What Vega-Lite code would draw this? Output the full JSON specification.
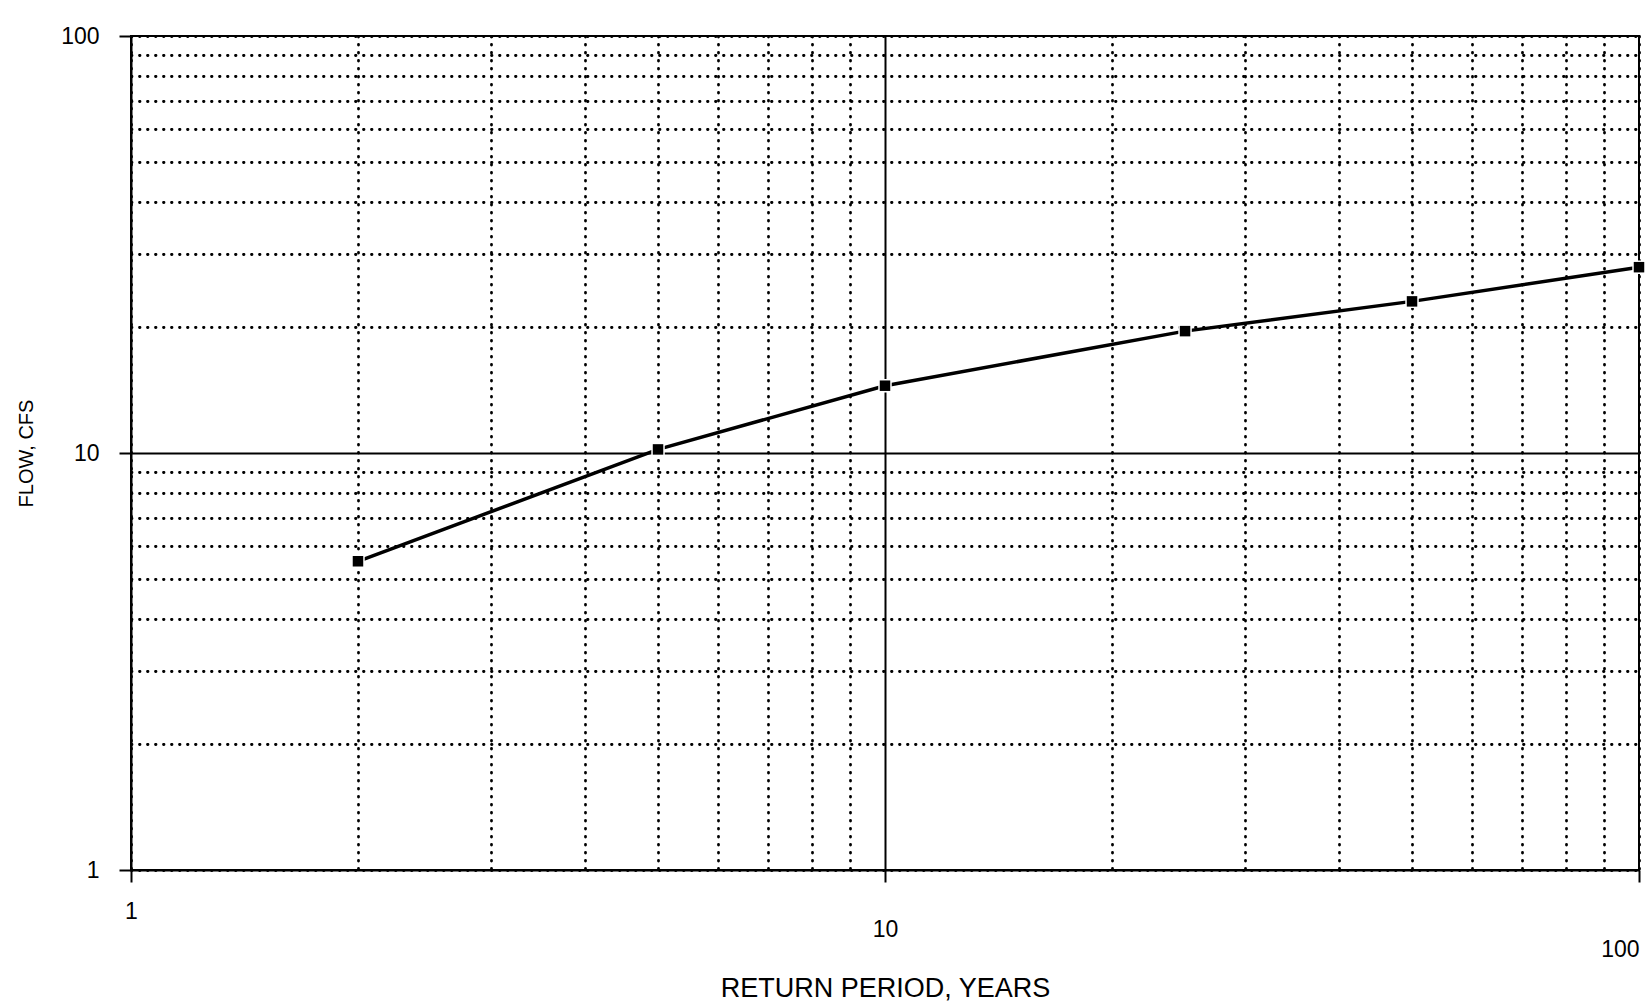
{
  "$schema": "https://vega.github.io/schema/vega-lite/v6.json",
  "width": 1508,
  "height": 834,
  "autosize": {"type": "none"},
  "padding": {"left": 131, "top": 36, "right": 13, "bottom": 134},
  "background": "white",
  "config": {
    "view": {"stroke": "black", "strokeWidth": 2},
    "font": "Liberation Sans",
    "axis": {
      "domainColor": "black",
      "domainWidth": 2,
      "tickColor": "black",
      "tickWidth": 2,
      "tickSize": 12,
      "labelColor": "black",
      "titleColor": "black",
      "labelFont": "Liberation Sans",
      "titleFont": "Liberation Sans",
      "titleFontWeight": "normal",
      "gridColor": "black",
      "gridCap": "round",
      "gridOpacity": 1
    }
  },
  "data": {
    "values": [
      {"period": 2, "flow": 5.5},
      {"period": 5, "flow": 10.2},
      {"period": 10, "flow": 14.5},
      {"period": 25, "flow": 19.6},
      {"period": 50, "flow": 23.1},
      {"period": 100, "flow": 27.9}
    ]
  },
  "encoding": {
    "x": {
      "field": "period",
      "type": "quantitative",
      "scale": {"type": "log", "domain": [1, 100], "nice": false},
      "axis": {
        "title": "RETURN PERIOD, YEARS",
        "titleFontSize": 27,
        "titlePadding": 14,
        "values": [1, 2, 3, 4, 5, 6, 7, 8, 9, 10, 20, 30, 40, 50, 60, 70, 80, 90, 100],
        "labelExpr": "(datum.value == 1 || datum.value == 10 || datum.value == 100) ? format(datum.value, 'd') : ''",
        "labelFontSize": 23,
        "labelPadding": {"condition": [{"test": "datum.value == 1", "value": 18}, {"test": "datum.value == 100", "value": 56}], "value": 36},
        "labelAlign": {"condition": {"test": "datum.value == 100", "value": "right"}, "value": "center"},
        "labelFlush": false,
        "labelOverlap": false,
        "grid": true,
        "gridDash": {"condition": {"test": "datum.value == 10", "value": [1, 0]}, "value": [0.5, 7.5]},
        "gridWidth": {"condition": {"test": "datum.value == 10", "value": 2}, "value": 2.8},
        "tickOpacity": {"condition": {"test": "datum.value == 1 || datum.value == 10 || datum.value == 100", "value": 1}, "value": 0}
      }
    },
    "y": {
      "field": "flow",
      "type": "quantitative",
      "scale": {"type": "log", "domain": [1, 100], "nice": false},
      "axis": {
        "title": "FLOW, CFS",
        "titleFontSize": 20,
        "titlePadding": 24,
        "values": [1, 2, 3, 4, 5, 6, 7, 8, 9, 10, 20, 30, 40, 50, 60, 70, 80, 90, 100],
        "labelExpr": "(datum.value == 1 || datum.value == 10 || datum.value == 100) ? format(datum.value, 'd') : ''",
        "labelFontSize": 23,
        "labelPadding": 20,
        "labelFlush": false,
        "labelOverlap": false,
        "grid": true,
        "gridDash": {"condition": {"test": "datum.value == 10", "value": [1, 0]}, "value": [0.5, 7.5]},
        "gridWidth": {"condition": {"test": "datum.value == 10", "value": 2}, "value": 2.8},
        "tickOpacity": {"condition": {"test": "datum.value == 1 || datum.value == 10 || datum.value == 100", "value": 1}, "value": 0}
      }
    }
  },
  "layer": [
    {"mark": {"type": "line", "color": "black", "strokeWidth": 3.5}},
    {"mark": {"type": "point", "shape": "square", "filled": true, "color": "black", "size": 110, "stroke": "white", "strokeWidth": 3, "strokeOpacity": 1, "opacity": 1}},
    {"mark": {"type": "point", "shape": "square", "filled": true, "color": "black", "size": 110, "opacity": 1}}
  ]
}
